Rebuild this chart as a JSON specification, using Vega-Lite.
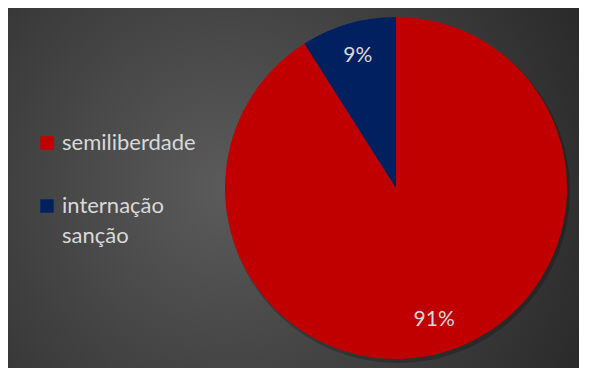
{
  "$schema": "https://vega.github.io/schema/vega-lite/v6.json",
  "width": 571,
  "height": 360,
  "autosize": {"type": "none"},
  "padding": {"left": 8, "top": 8, "right": 10, "bottom": 1},
  "background": "white",
  "config": {
    "view": {"stroke": null},
    "style": {"guide-label": {"lineHeight": 30}}
  },
  "layer": [
    {
      "data": {"values": [{"bg": "background"}]},
      "mark": {
        "type": "rect",
        "color": {"gradient": "radial", "x1": 0.38, "y1": 0.5, "x2": 0.38, "y2": 0.5, "r1": 0, "r2": 0.75,
          "stops": [{"offset": 0, "color": "#5b5b5b"}, {"offset": 1, "color": "#262626"}]}
      },
      "encoding": {}
    },
    {
      "data": {
        "values": [
          {"category": "semiliberdade", "value": 91, "label": "91%"},
          {"category": "internação sanção", "value": 9, "label": "9%"}
        ]
      },
      "encoding": {
        "theta": {"field": "value", "type": "quantitative", "stack": true},
        "order": {"field": "value", "type": "quantitative", "sort": "descending"}
      },
      "layer": [
        {
          "mark": {"type": "arc", "outerRadius": 172, "x": {"expr": "width*0.6795+2"}, "y": {"expr": "height/2+3"}, "color": "#000000", "opacity": 0.22},
          "encoding": {"detail": {"field": "category", "type": "nominal"}}
        },
        {
          "mark": {"type": "arc", "outerRadius": 171, "x": {"expr": "width*0.6795"}},
          "encoding": {
            "color": {
              "field": "category", "type": "nominal", "sort": null,
              "scale": {"domain": ["semiliberdade", "internação sanção"], "range": ["#c00000", "#002060"]},
              "legend": {
                "title": null, "orient": "none", "legendX": 28, "legendY": 124,
                "symbolType": "square", "symbolSize": 180, "symbolStrokeWidth": 0,
                "labelFont": "Lato", "labelFontSize": 22, "labelColor": "#d9d9d9",
                "labelOffset": 4, "rowPadding": 41, "padding": 0, "labelLimit": 300,
                "labelExpr": "datum.label == 'internação sanção' ? ['internação', 'sanção'] : datum.label"
              }
            }
          }
        },
        {
          "mark": {"type": "text", "radius": 137, "x": {"expr": "width*0.6795"}, "font": "Lato", "fontSize": 21, "color": "#d9d9d9"},
          "encoding": {
            "detail": {"field": "category", "type": "nominal"},
            "text": {"field": "label", "type": "nominal"}
          }
        }
      ]
    }
  ]
}
